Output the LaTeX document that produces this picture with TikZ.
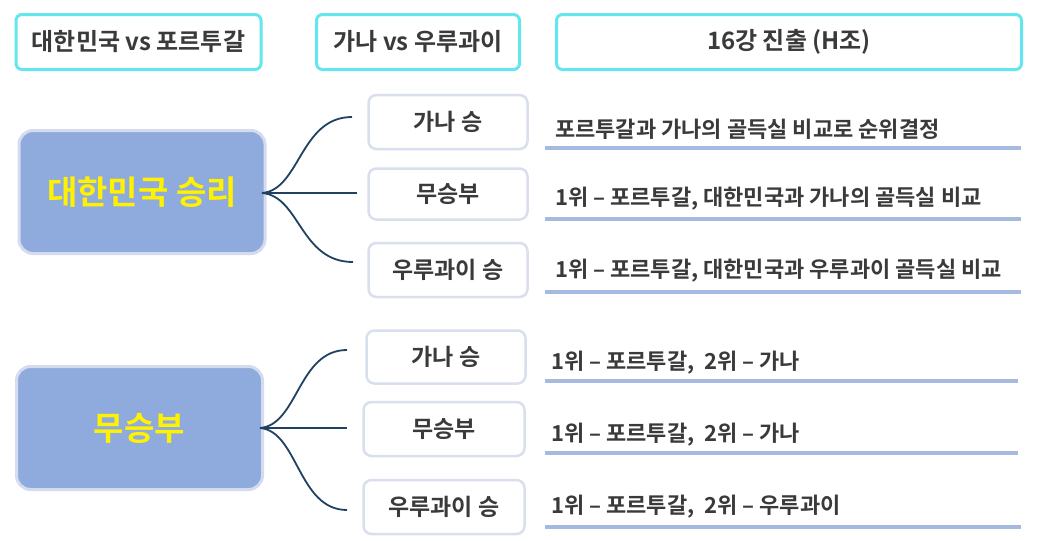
\documentclass[tikz,border=0pt]{standalone}
\usepackage{fontspec}
\setmainfont{Noto Sans CJK KR}[BoldFont={Noto Sans CJK KR Bold}]
\definecolor{cyanb}{HTML}{63E6EE}
\definecolor{bigf}{HTML}{8FAADC}
\definecolor{bigd}{HTML}{D5DCF0}
\definecolor{smd}{HTML}{D9DFEC}
\definecolor{lnc}{HTML}{1F4263}
\definecolor{ulc}{HTML}{A6B9DE}
\definecolor{txt}{HTML}{3A3A3A}
\begin{document}
\begin{tikzpicture}[x=1pt,y=-1pt,
 hdr/.style={draw=cyanb,line width=3pt,rounded corners=6pt,fill=white,text=txt,font=\fontsize{24}{26}\selectfont\bfseries},
 big/.style={draw=bigd,line width=3pt,fill=bigf,rounded corners=14pt,text=yellow,font=\fontsize{33}{36}\selectfont\bfseries},
 sm/.style={draw=smd,line width=2.5pt,fill=white,rounded corners=8pt,text=txt,font=\fontsize{23}{25}\selectfont\bfseries},
 rt/.style={anchor=west,text=txt,font=\fontsize{22}{24}\selectfont\bfseries,inner sep=0pt},
 ul/.style={ulc,line width=4pt},
 br/.style={lnc,line width=1.8pt}]
\useasboundingbox (0,0) rectangle (1037,541);
\fill[white] (0,0) rectangle (1037,541);
\node[hdr,minimum width=245pt,minimum height=55pt] (h1) at (138.5,42) {대한민국 vs 포르투갈};
\node[hdr,minimum width=203pt,minimum height=55pt] (h2) at (418,42) {가나 vs 우루과이};
\node[hdr,minimum width=465pt,minimum height=55pt] (h3) at (789,42) {16강 진출 (H조)};
\node[big,minimum width=246pt,minimum height=123pt] (b1) at (142,192) {대한민국 승리};
\node[big,minimum width=246pt,minimum height=123pt] (b2) at (139.5,428) {무승부};
\node[sm,minimum width=159pt,minimum height=54pt] (s1) at (448,122) {가나 승};
\node[sm,minimum width=159pt,minimum height=51pt] (s2) at (448,194) {무승부};
\node[sm,minimum width=159pt,minimum height=54pt] (s3) at (448,270) {우루과이 승};
\node[sm,minimum width=159pt,minimum height=53pt] (s4) at (446,357) {가나 승};
\node[sm,minimum width=161pt,minimum height=54pt] (s5) at (444,429) {무승부};
\node[sm,minimum width=161pt,minimum height=54pt] (s6) at (444,507) {우루과이 승};
\coordinate (o1) at (262,193);
\coordinate (e1) at (352,117);\coordinate (e2) at (357,193);\coordinate (e3) at (353,262);
\draw[br] (o1) .. controls (300,190) and (300,117) .. (e1);
\draw[br] (o1) -- (e2);
\draw[br] (o1) .. controls (300,196) and (300,262) .. (e3);
\coordinate (o2) at (260,428);
\coordinate (f1) at (347,350);\coordinate (f2) at (347,428);\coordinate (f3) at (347,510);
\draw[br] (o2) .. controls (298,425) and (298,350) .. (f1);
\draw[br] (o2) -- (f2);
\draw[br] (o2) .. controls (298,431) and (298,510) .. (f3);
\node[rt] (t1) at (555,129) {포르투갈과 가나의 골득실 비교로 순위결정};
\node[rt] (t2) at (555,199) {1위 – 포르투갈, 대한민국과 가나의 골득실 비교};
\node[rt] (t3) at (555,271) {1위 – 포르투갈, 대한민국과 우루과이 골득실 비교};
\node[rt] (t4) at (551,363) {1위 – 포르투갈,\ \ 2위 – 가나};
\node[rt] (t5) at (551,435) {1위 – 포르투갈,\ \ 2위 – 가나};
\node[rt] (t6) at (551,507) {1위 – 포르투갈,\ \ 2위 – 우루과이};
\coordinate (u1a) at (545,148);\coordinate (u1b) at (1021,148);
\coordinate (u2a) at (545,219);\coordinate (u2b) at (1021,219);
\coordinate (u3a) at (545,292);\coordinate (u3b) at (1021,292);
\coordinate (u4a) at (545,381);\coordinate (u4b) at (1018,381);
\coordinate (u5a) at (545,453);\coordinate (u5b) at (1018,453);
\coordinate (u6a) at (545,527);\coordinate (u6b) at (1021,527);
\foreach \i in {1,...,6}{\draw[ul] (u\i a) -- (u\i b);}
\end{tikzpicture}
\end{document}
